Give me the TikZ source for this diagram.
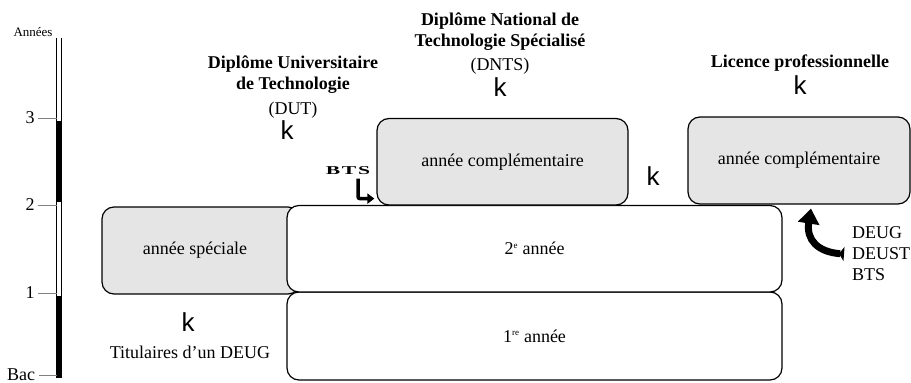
\documentclass[tikz,border=0pt]{standalone}
\usepackage{fontspec}
\setmainfont{Liberation Serif}
\newfontfamily\kfont{Liberation Sans}
\usetikzlibrary{arrows.meta,positioning}
\definecolor{boxgray}{gray}{0.9}
\newcommand{\sups}[1]{\textsuperscript{\fontsize{9}{9}\selectfont #1}}
\tikzset{font=\fontsize{18}{21}\selectfont}
\tikzstyle{box}=[draw,rounded corners=12pt,line width=1.2pt,fill=white,inner sep=0pt]
\tikzstyle{graybox}=[box,fill=boxgray]
\tikzstyle{head}=[align=center,inner sep=0pt]
\tikzstyle{kmark}=[font=\kfont\fontsize{26}{26}\selectfont,inner sep=0pt]
\tikzstyle{tick}=[gray,line width=1pt]
\tikzstyle{fat}=[line width=7pt,{Triangle[reversed,length=5pt,width=14pt]}-{Triangle[length=15pt,width=21pt]}]
\tikzstyle{thinfat}=[line width=3.5pt,rounded corners=2pt,-{Triangle[length=7pt,width=10pt]}]

\begin{document}
\begin{tikzpicture}[x=1pt,y=-1pt]
\useasboundingbox (0,0) rectangle (911,383);
% axis
\node (Y) at (33,32) {\fontsize{13}{13}\selectfont Années};
\coordinate (T) at (56.5,38);
\coordinate (U) at (61.5,378);
\draw[line width=1.1pt] (T) -- (T |- U);
\draw[line width=1.1pt] (T -| U) -- (U);
\fill (56.5,120.5) rectangle (61.5,201.5);
\fill (56.5,296) rectangle (61.5,378);
\node (N3) at (30,118) {3};
\node (N2) at (30,205) {2};
\node (N1) at (30,293) {1};
\node (N0) at (21,375) {Bac};
\draw[tick] (N3.east) -- (N3 -| T);
\draw[tick] (N2.east) -- (N2 -| T);
\draw[tick] (N1.east) -- (N1 -| T);
\draw[tick] (N0.east) -- (N0 -| T);
% boxes
\node[graybox,minimum width=198pt,minimum height=87pt] (S) at (201,250.5) {année spéciale\hspace*{12pt}};
\node[box,minimum width=495pt,minimum height=88pt] (P) at (534.5,336) {1\sups{re} année};
\node[box,minimum width=495pt,minimum height=86.5pt] (D) at (534.5,248.75) {2\sups{e} année};
\node[graybox,minimum width=251pt,minimum height=86.5pt] (M) at (502.5,161.75) {année complémentaire};
\node[graybox,minimum width=222pt,minimum height=87pt] (L) at (799,160.5) {année complémentaire};
% headings
\node[head] (H1) at (293,87) {\textbf{Diplôme Universitaire}\\\textbf{de Technologie}\\[4pt](DUT)};
\node[head] (H2) at (500,44) {\textbf{Diplôme National de}\\\textbf{Technologie Spécialisé}\\[3pt](DNTS)};
\node[head] (H3) at (800,63) {\textbf{Licence professionnelle}};
\node[kmark] (K1) at (287,130) {k};
\node[kmark] (K2) at (500,87) {k};
\node[kmark] (K3) at (800,85) {k};
\node[kmark] (K4) at (653,176) {k};
\node[kmark] (K5) at (188,322) {k};
\node (W) at (190,352) {Titulaires d\char"0027un DEUG};
\node[align=left,anchor=west,inner sep=0pt] (E) at (852,254) {DEUG\\DEUST\\BTS};
\node (B) at (348,171) {\scalebox{1.8}[1]{\fontsize{12}{12}\selectfont\textbf{B\kern1pt T\kern1pt S}}};
% arrows
\draw[thinfat] ([xshift=10pt]B.south) |- ([xshift=-2pt,yshift=7pt]M.south west);
\draw[fat] ([xshift=-8pt]E.west) .. controls (818,252) and (806,240) .. ([xshift=12pt,yshift=-4pt]L.south);
\end{tikzpicture}
\end{document}
